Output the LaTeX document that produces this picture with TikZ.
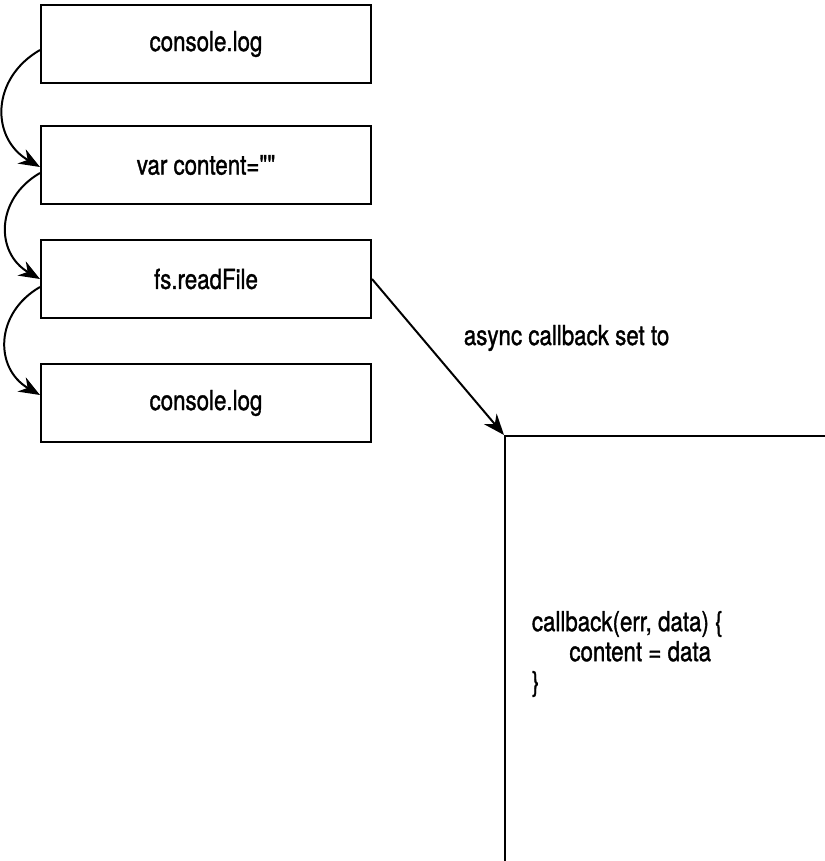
\documentclass[tikz,border=0pt]{standalone}
\usepackage{fontspec}
\newfontfamily\diagfont[FakeStretch=0.81,FakeBold=1.2]{TeX Gyre Heros}
\usetikzlibrary{arrows.meta,calc}

\begin{document}
\begin{tikzpicture}[x=0.03cm, y=-0.03cm, line width=1.7pt,
  font=\diagfont\fontsize{23.5}{25.6}\selectfont,
  >={Stealth[length=18pt,width=14pt]},
  stmt/.style={draw, rectangle, minimum width=9.9cm, minimum height=2.34cm}]
  \clip (0,0) rectangle (825,861);

  \node[stmt] (log1) at (206,44) {console.log};
  \node[stmt] (var) at (206,165) {var content=""};
  \node[stmt] (read) at (206,279) {fs.readFile};
  \node[stmt] (log2) at (206,403) {console.log};
  \node[draw, rectangle, minimum width=12cm, minimum height=15cm, anchor=north west] (cb) at (504,435) {};
  \node[anchor=west, align=left] (code) at (527,654) {callback(err, data) \{\\\hspace*{32pt}content = data\\\}};
  \node[anchor=west] (lbl) at (459,338) {async callback set to};

  \draw[->] ($(log1.west)+(0,6)$) to[out=210, in=150, looseness=1.25] ($(var.west)+(0,2)$);
  \draw[->] ($(var.west)+(0,8)$) to[out=210, in=150, looseness=1.25] (read.west);
  \draw[->] ($(read.west)+(0,8)$) to[out=210, in=150, looseness=1.25] ($(log2.west)+(0,-8)$);
  \draw[->] (read.east) -- (cb.north west);
\end{tikzpicture}
\end{document}
